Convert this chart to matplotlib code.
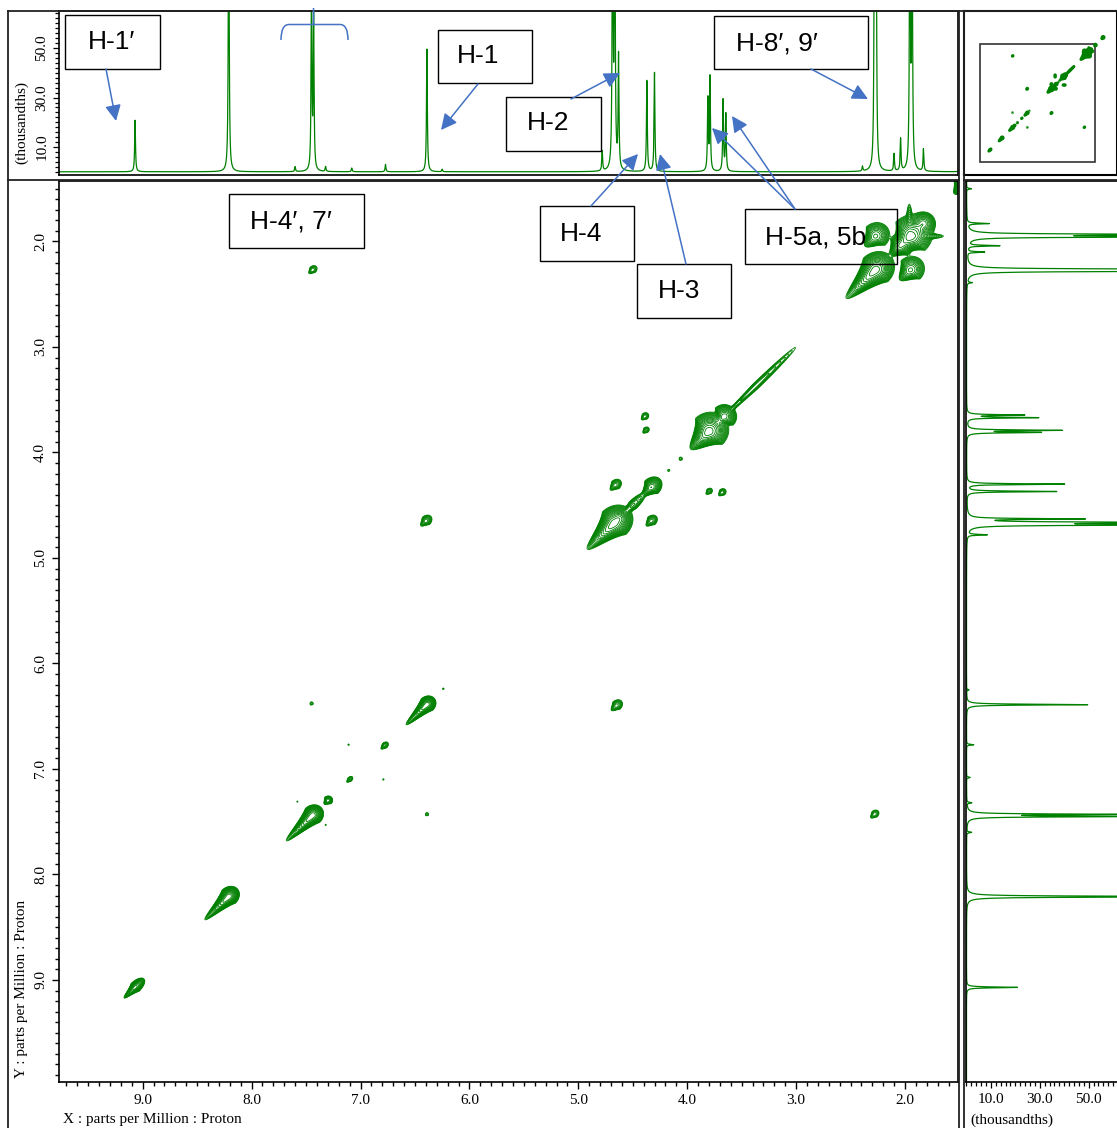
import numpy as np
import matplotlib
matplotlib.use("Agg")
import matplotlib.pyplot as plt
from matplotlib.patches import Rectangle, FancyArrowPatch, PathPatch
from matplotlib.path import Path
from matplotlib.lines import Line2D
from matplotlib.ticker import MultipleLocator, FixedLocator, FormatStrFormatter

# ---- 1D proton spectrum: peak positions (ppm) and heights (thousandths)
peak_ppm = [9.07, 8.21, 7.60, 7.45, 7.43, 7.32, 7.08, 6.77, 6.39, 6.25,
            4.78, 4.685, 4.665, 4.63, 4.37, 4.30, 3.81, 3.79, 3.67, 3.645,
            2.39, 2.28, 2.265, 2.10, 2.04, 1.955, 1.935, 1.83, 1.50]
peak_height = [21, 130, 2, 72, 62, 2, 1.5, 3, 50, 1,
               8, 130, 130, 46, 37, 40, 29, 38, 29, 23,
               2, 130, 130, 7, 13, 130, 130, 9, 2]

# ---- 2D COSY: diagonal peaks (ppm) and intensity (in contour units)
diag_ppm = [9.07, 8.21, 7.44, 7.30, 7.10, 6.78, 6.39, 6.24, 4.67, 4.62,
            4.50, 4.33, 4.17, 4.06, 3.80, 3.66, 3.38, 2.27, 1.95, 1.83,
            2.05, 1.49, 0.95]
diag_int = [60, 120, 120, 15, 5, 7, 90, 1.6, 150, 40,
            12, 50, 1.8, 2.5, 150, 60, 8, 150, 150, 40,
            50, 40, 60]

# off-diagonal cross peaks
cross_x = [7.44, 2.28, 6.40, 4.65, 7.45, 6.39, 7.11, 6.79, 4.66, 4.33,
           4.39, 3.68, 4.38, 3.80, 1.95, 2.27, 7.58, 7.32]
cross_y = [2.27, 7.43, 4.65, 6.40, 6.38, 7.43, 6.77, 7.10, 4.31, 4.65,
           3.66, 4.38, 3.79, 4.37, 2.27, 1.95, 7.31, 7.53]
cross_int = [6, 6, 10, 10, 2.2, 2.2, 1.5, 1.5, 10, 10,
             6, 6, 5, 5, 40, 40, 1.5, 1.5]

# t1 streaks through the 1.95 ppm signal (x, y, direction in degrees)
streak_x = [1.84, 1.96]
streak_y = [1.95, 1.84]
streak_dir = [0, 90]
streak_int = [10, 10]

# shapes: (sigma head, sigma across, sigma tail) in ppm
diag_shape = [(0.04, 0.018, 0.05), (0.035, 0.028, 0.10), (0.035, 0.03, 0.11),
              (0.02, 0.018, 0.02), (0.02, 0.012, 0.02), (0.022, 0.014, 0.022),
              (0.03, 0.025, 0.09), (0.008, 0.008, 0.008), (0.06, 0.048, 0.11),
              (0.03, 0.03, 0.03), (0.07, 0.02, 0.07), (0.04, 0.03, 0.04),
              (0.01, 0.01, 0.01), (0.012, 0.012, 0.012), (0.06, 0.055, 0.075),
              (0.04, 0.04, 0.04), (0.26, 0.015, 0.26), (0.06, 0.05, 0.12),
              (0.07, 0.06, 0.07), (0.04, 0.04, 0.04), (0.04, 0.04, 0.04),
              (0.03, 0.03, 0.03), (0.04, 0.03, 0.04)]
cross_shape = [(0.025, 0.018), (0.025, 0.018), (0.03, 0.022), (0.03, 0.022),
               (0.013, 0.013), (0.013, 0.013), (0.008, 0.008), (0.008, 0.008),
               (0.03, 0.022), (0.03, 0.022), (0.022, 0.017), (0.022, 0.017),
               (0.02, 0.015), (0.02, 0.015), (0.05, 0.045), (0.05, 0.045),
               (0.007, 0.007), (0.007, 0.007)]

GREEN = "#008000"
BLUE = "#4472C4"
W, H = 1117, 1128

plt.rcParams["font.family"] = ["Liberation Serif", "DejaVu Serif"]
SANS = ["Liberation Sans", "DejaVu Sans"]

# ---------------------------------------------------------------- 2D field
xg = np.arange(0.5, 10.3, 0.006)
yg = np.arange(0.5, 10.3, 0.006)
Z = np.zeros((len(yg), len(xg)))


def add_peak(x0, y0, amp, s_head, s_across, s_tail, angle=45.0):
    reach = 4.5 * max(s_head, s_tail, s_across)
    i0, i1 = np.searchsorted(xg, [x0 - reach, x0 + reach])
    j0, j1 = np.searchsorted(yg, [y0 - reach, y0 + reach])
    dx = xg[i0:i1][None, :] - x0
    dy = yg[j0:j1][:, None] - y0
    a = np.deg2rad(angle)
    u = dx * np.cos(a) + dy * np.sin(a)
    v = -dx * np.sin(a) + dy * np.cos(a)
    su = np.where(u > 0, s_tail, s_head)
    taper = 1.0 / (1.0 + 0.5 * np.clip(u, 0, None) / s_tail)
    Z[j0:j1, i0:i1] += amp * np.exp(-0.5 * (u / su) ** 2
                                    - 0.5 * (v / (s_across * taper)) ** 2)


for p, a, (sh, sa, st) in zip(diag_ppm, diag_int, diag_shape):
    add_peak(p, p, a, sh, sa, st)
for x, y, a, (sl, sa) in zip(cross_x, cross_y, cross_int, cross_shape):
    add_peak(x, y, a, sl, sa, sl)
for x, y, d, a in zip(streak_x, streak_y, streak_dir, streak_int):
    add_peak(x, y, a, 0.09, 0.012, 0.09, angle=d)

levels = 1.0 * 1.35 ** np.arange(18)

# ---------------------------------------------------------------- 1D trace
ppm1d = np.arange(1.3, 10.0, 0.0008)
spec = np.zeros_like(ppm1d)
gam = 0.0045
for p, h in zip(peak_ppm, peak_height):
    spec += h * gam ** 2 / ((ppm1d - p) ** 2 + gam ** 2)

# ---------------------------------------------------------------- figure
fig = plt.figure(figsize=(W / 100, H / 100), dpi=100)


def fx(px):
    return px / W


def fy(py):
    return 1 - py / H


def rect(x0, y0, x1, y1):
    return [fx(x0), fy(y1), fx(x1) - fx(x0), fy(y0) - fy(y1)]


XL = (9.766, 1.513)
YL = (9.964, 1.427)

ax = fig.add_axes(rect(59.3, 181, 958, 1081.7))
ax_top = fig.add_axes(rect(59.3, 11, 958, 175))
ax_right = fig.add_axes(rect(965.5, 181, 1117, 1081.7))
ax_thumb = fig.add_axes(rect(964, 11, 1117, 175))

# main contour plot
ax.contour(xg, yg, Z, levels=levels, colors=GREEN, linewidths=0.6)
ax.set_xlim(*XL)
ax.set_ylim(*YL)
ax.xaxis.set_major_locator(MultipleLocator(1.0))
ax.xaxis.set_minor_locator(MultipleLocator(0.1))
ax.yaxis.set_major_locator(MultipleLocator(1.0))
ax.yaxis.set_minor_locator(MultipleLocator(0.1))
ax.xaxis.set_major_formatter(FormatStrFormatter("%.1f"))
ax.yaxis.set_major_formatter(FormatStrFormatter("%.1f"))
ax.tick_params(which="major", length=4.8, width=1.0, labelsize=11, pad=4)
ax.tick_params(which="minor", length=2.9, width=1.0)
plt.setp(ax.get_yticklabels(), rotation=90, va="center")
for s in ax.spines.values():
    s.set_linewidth(1.2)

# top projection
ax_top.plot(ppm1d, spec, color=GREEN, lw=0.9)
ax_top.set_xlim(*XL)
ax_top.set_ylim(-1.3, 65)
ax_top.set_xticks([])
ax_top.yaxis.set_major_locator(FixedLocator([10, 30, 50]))
ax_top.yaxis.set_minor_locator(MultipleLocator(2))
ax_top.yaxis.set_major_formatter(FormatStrFormatter("%.1f"))
ax_top.tick_params(which="major", length=4.0, width=0.9, labelsize=11, pad=4)
ax_top.tick_params(which="minor", length=2.6, width=0.9)
plt.setp(ax_top.get_yticklabels(), rotation=90, va="center")
for s in ax_top.spines.values():
    s.set_linewidth(1.2)

# right projection
ax_right.plot(spec, ppm1d, color=GREEN, lw=0.9)
ax_right.set_ylim(*YL)
ax_right.set_xlim(-0.4, 61.6)
ax_right.set_yticks([])
ax_right.xaxis.set_major_locator(FixedLocator([10, 30, 50]))
ax_right.xaxis.set_minor_locator(MultipleLocator(2))
ax_right.xaxis.set_major_formatter(FormatStrFormatter("%.1f"))
ax_right.tick_params(which="major", length=4.0, width=0.9, labelsize=11, pad=4)
ax_right.tick_params(which="minor", length=2.6, width=0.9)
ax_right.spines["right"].set_visible(False)
for s in ax_right.spines.values():
    s.set_linewidth(1.2)

# thumbnail of the full spectrum
ax_thumb.contourf(xg[::3], yg[::3], Z[::3, ::3], levels=[1.0, 1e6], colors=GREEN)
ax_thumb.contour(xg[::3], yg[::3], Z[::3, ::3], levels=[1.0], colors=GREEN,
                 linewidths=1.8)
ax_thumb.set_xlim(10.94, -0.07)
ax_thumb.set_ylim(10.88, -0.98)
ax_thumb.set_xticks([])
ax_thumb.set_yticks([])
ax_thumb.add_patch(Rectangle((XL[1], YL[1]), XL[0] - XL[1], YL[0] - YL[1],
                             fill=False, ec="#333333", lw=1.2))
for s in ax_thumb.spines.values():
    s.set_linewidth(1.5)

# frame lines of the layout
frame = [((8, 11), (8, 1128)), ((8, 11), (1117, 11)),
         ((8, 180.5), (958.5, 180.5)), ((959, 11), (959, 1128)),
         ((963.5, 11), (963.5, 1128)), ((963.5, 180.5), (1117, 180.5))]
for (x0, y0), (x1, y1) in frame:
    fig.add_artist(Line2D([fx(x0), fx(x1)], [fy(y0), fy(y1)],
                          transform=fig.transFigure, color="#222222", lw=1.3))

# axis titles
fig.text(fx(63), fy(1120), "X : parts per Million : Proton", ha="left",
         va="center", fontsize=11)
fig.text(fx(22), fy(1078), "Y : parts per Million : Proton", ha="center",
         va="bottom", rotation=90, fontsize=11)
fig.text(fx(22), fy(122), "(thousandths)", ha="center", va="center",
         rotation=90, fontsize=11)
fig.text(fx(970), fy(1120), "(thousandths)", ha="left", va="center",
         fontsize=11)

# annotation boxes
boxes = [("H-1\u2032", (65, 15, 160, 69)), ("H-1", (438, 30, 532, 83)),
         ("H-2", (506, 97, 601, 151)), ("H-8\u2032, 9\u2032", (714, 16, 868, 69)),
         ("H-4\u2032, 7\u2032", (229, 194, 364, 248)), ("H-4", (540, 206, 634, 261)),
         ("H-3", (637, 264, 731, 318)), ("H-5a, 5b", (745, 209, 897, 264))]
text_pos = [(112, 42), (478, 56), (548, 123), (777, 43), (291, 221),
            (581, 234), (679, 291), (816, 237)]
for (label, (x0, y0, x1, y1)), (tx, ty) in zip(boxes, text_pos):
    fig.add_artist(Rectangle((fx(x0), fy(y1)), fx(x1) - fx(x0), fy(y0) - fy(y1),
                             transform=fig.transFigure, fill=False, ec="black",
                             lw=1.0, zorder=5))
    fig.text(fx(tx), fy(ty), label, ha="center", va="center", fontsize=19,
             family=SANS, zorder=6)

# arrows
arrows = [((106, 69), (116, 121)), ((478, 84), (441, 130)),
          ((571, 99), (620, 73)), ((811, 69), (868, 99)),
          ((591, 206), (638, 154)), ((686, 264), (660, 154)),
          ((795, 209), (712, 128)), ((795, 209), (732, 116))]
for (x0, y0), (x1, y1) in arrows:
    fig.add_artist(FancyArrowPatch((fx(x0), fy(y0)), (fx(x1), fy(y1)),
                                   transform=fig.transFigure, arrowstyle="-|>",
                                   mutation_scale=24, color=BLUE, lw=1.1,
                                   shrinkA=0, shrinkB=0, zorder=6))

# bracket over the H-4', 7' doublet
verts = [(281, 40), (281, 24.5), (289, 24.5), (313.5, 24.5), (313.5, 8),
         (313.5, 24.5), (340, 24.5), (348, 24.5), (348, 40)]
codes = [Path.MOVETO, Path.CURVE3, Path.CURVE3, Path.LINETO, Path.LINETO,
         Path.MOVETO, Path.LINETO, Path.CURVE3, Path.CURVE3]
verts = [(fx(a), fy(b)) for a, b in verts]
fig.add_artist(PathPatch(Path(verts, codes), transform=fig.transFigure,
                         fill=False, ec=BLUE, lw=1.1, zorder=6))

fig.savefig("out.png", dpi=100)
